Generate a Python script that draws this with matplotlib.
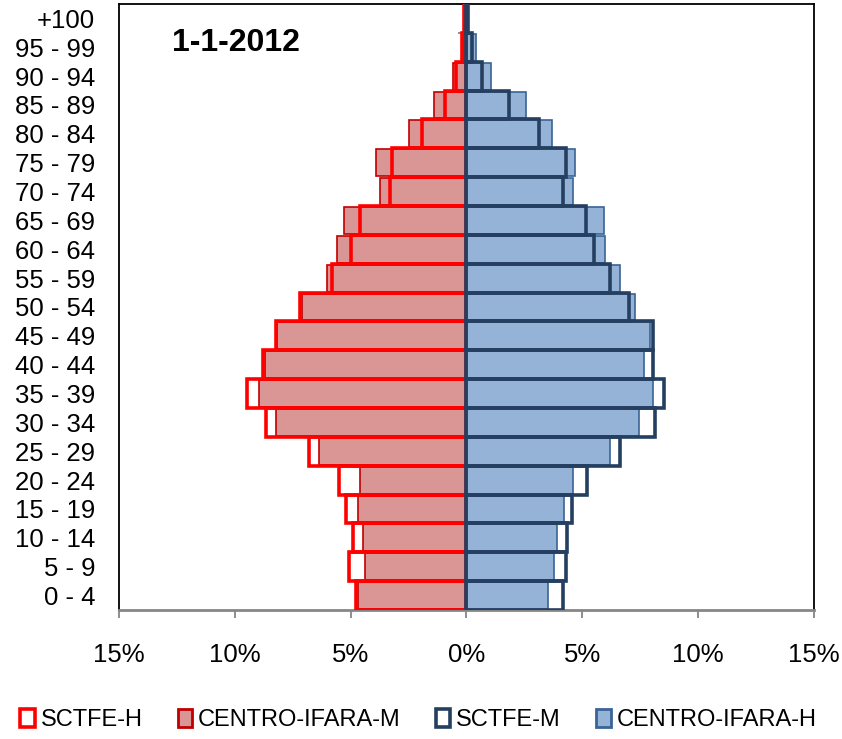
import matplotlib.pyplot as plt
from matplotlib.patches import Patch
import numpy as np

plt.rcParams['font.family'] = ['Liberation Sans', 'DejaVu Sans']

# age groups, bottom to top
groups = ["0 - 4", "5 - 9", "10 - 14", "15 - 19", "20 - 24", "25 - 29", "30 - 34",
          "35 - 39", "40 - 44", "45 - 49", "50 - 54", "55 - 59", "60 - 64", "65 - 69",
          "70 - 74", "75 - 79", "80 - 84", "85 - 89", "90 - 94", "95 - 99", "+100"]

# percentages (left side drawn negative)
sctfe_h = [4.75, 5.05, 4.91, 5.21, 5.50, 6.81, 8.65, 9.47, 8.78, 8.24, 7.17,
           5.80, 4.97, 4.58, 3.28, 3.20, 1.94, 0.91, 0.45, 0.20, 0.10]
centro_m = [4.70, 4.39, 4.46, 4.70, 4.58, 6.38, 8.24, 8.97, 8.70, 8.20, 7.08,
            6.02, 5.59, 5.27, 3.75, 3.89, 2.46, 1.41, 0.59, 0.15, 0.05]
sctfe_m = [4.16, 4.28, 4.34, 4.55, 5.20, 6.64, 8.15, 8.53, 8.04, 8.04, 7.00,
           6.21, 5.49, 5.17, 4.15, 4.29, 3.11, 1.82, 0.66, 0.23, 0.05]
centro_h = [3.54, 3.80, 3.91, 4.19, 4.58, 6.21, 7.43, 8.04, 7.66, 7.91, 7.26,
            6.64, 5.96, 5.92, 4.58, 4.67, 3.69, 2.57, 1.07, 0.42, 0.03]

xticks = [-15, -10, -5, 0, 5, 10, 15]

RED = "#FF0000"
PINK = "#D99694"
DARKRED = "#C00000"
NAVY = "#243F60"
BLUE = "#95B3D7"
BLUE_EDGE = "#3A6496"

fig = plt.figure(figsize=(8.42, 7.39), dpi=100)
ax = fig.add_axes([0.1413, 0.1746, 0.8254, 0.82])

y = np.arange(len(groups))

# filled CENTRO-IFARA bars underneath
ax.barh(y, [-v for v in centro_m], height=0.93, color=PINK, edgecolor=DARKRED,
        linewidth=1.2, zorder=2)
ax.barh(y, centro_h, height=0.93, color=BLUE, edgecolor=BLUE_EDGE,
        linewidth=1.2, zorder=2)
# outline SCTFE bars on top
ax.barh(y, [-v for v in sctfe_h], height=1.0, facecolor="none", edgecolor=RED,
        linewidth=2.6, zorder=3)
ax.barh(y, sctfe_m, height=1.0, facecolor="none", edgecolor=NAVY,
        linewidth=2.6, zorder=3)

# small gray ticks on the central axis between categories
ax.hlines(np.arange(len(groups) + 1) - 0.5, -0.35, 0, color="#868686",
          linewidth=1.3, zorder=1)

ax.set_xlim(-15, 15)
ax.set_ylim(-0.5, len(groups) - 0.5)
ax.set_yticks(y)
ax.set_yticklabels(groups, fontsize=18.5)
ax.tick_params(axis="y", length=0, pad=17)
ax.set_xticks(xticks)
ax.set_xticklabels([f"{abs(t)}%" for t in xticks], fontsize=18.5)
ax.tick_params(axis="x", length=6, width=1.3, color="#868686", pad=18)

for s in ["left", "right", "top"]:
    ax.spines[s].set_color("black")
    ax.spines[s].set_linewidth(1.3)
ax.spines["bottom"].set_color("#868686")
ax.spines["bottom"].set_linewidth(2)

ax.text(0.076, 0.936, "1-1-2012", transform=ax.transAxes, fontsize=23,
        fontweight="bold", va="center", ha="left")

handles = [
    Patch(facecolor="white", edgecolor=RED, linewidth=2.6),
    Patch(facecolor=PINK, edgecolor=DARKRED, linewidth=2),
    Patch(facecolor="white", edgecolor=NAVY, linewidth=2.6),
    Patch(facecolor=BLUE, edgecolor=BLUE_EDGE, linewidth=2),
]
labels = ["SCTFE-H", "CENTRO-IFARA-M", "SCTFE-M", "CENTRO-IFARA-H"]
fig.legend(handles, labels, loc="center", bbox_to_anchor=(0.497, 0.026), ncol=4,
           frameon=False, fontsize=17, handlelength=0.6, handleheight=0.8,
           handletextpad=0.25, columnspacing=1.5, borderaxespad=0)

fig.savefig("out.png", dpi=100)
